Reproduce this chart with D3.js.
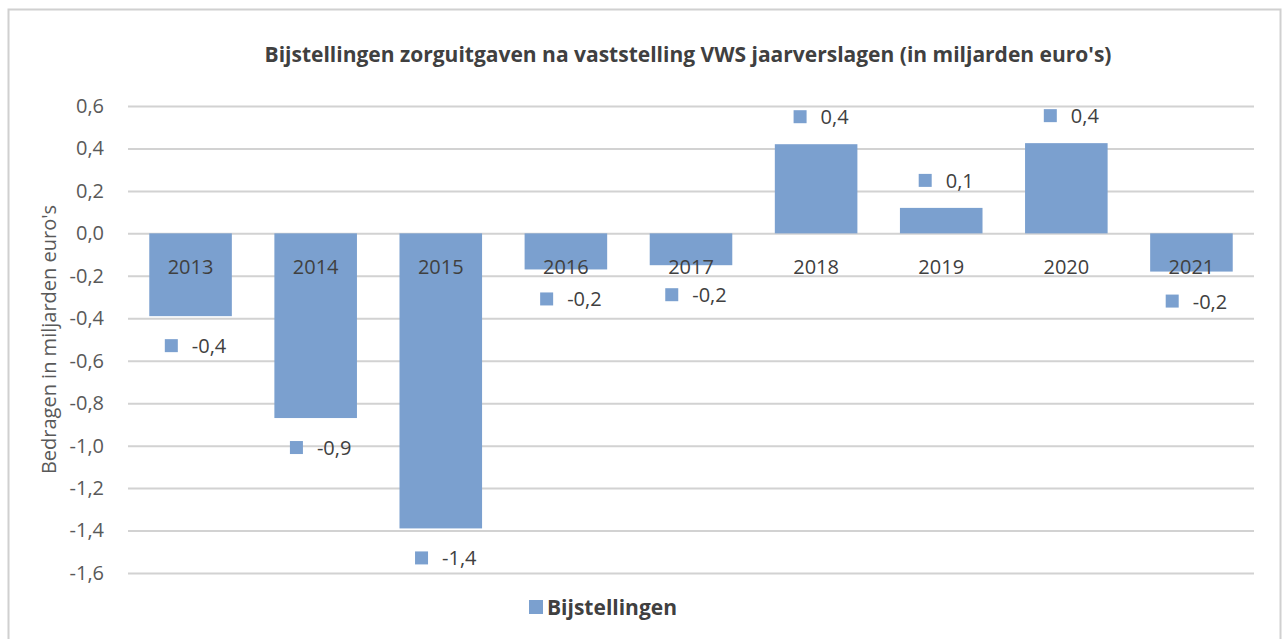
<!DOCTYPE html>
<html>
<head>
<meta charset="utf-8">
<script src="https://cdn.jsdelivr.net/npm/d3@7"></script>
<style>
  body { margin: 0; background: #fff; }
  text { font-family: "Open Sans", "Liberation Sans", sans-serif; }
</style>
</head>
<body>
<div id="chart"></div>
<script>
// chart data
var years = ["2013", "2014", "2015", "2016", "2017", "2018", "2019", "2020", "2021"];
var values = [-0.39, -0.87, -1.39, -0.17, -0.15, 0.42, 0.12, 0.425, -0.18];
var labels = ["-0,4", "-0,9", "-1,4", "-0,2", "-0,2", "0,4", "0,1", "0,4", "-0,2"];
var yTicks = [0.6, 0.4, 0.2, 0, -0.2, -0.4, -0.6, -0.8, -1.0, -1.2, -1.4, -1.6];

var W = 1282, H = 639;
var margin = {top: 106, right: 28, bottom: 66, left: 128};
var width = W - margin.left - margin.right,
    height = H - margin.top - margin.bottom;
var barColor = "#7ba0cf";

var svg = d3.select("#chart").append("svg")
  .attr("width", W).attr("height", H);

// outer frame
svg.append("rect")
  .attr("x", 8.5).attr("y", 9.5)
  .attr("width", W - 10).attr("height", H)
  .attr("fill", "#fff").attr("stroke", "#d0d0d0").attr("stroke-width", 2);

svg.append("text")
  .attr("x", 688).attr("y", 62)
  .attr("text-anchor", "middle")
  .attr("font-size", "21px").attr("font-weight", "bold")
  .attr("fill", "#404040")
  .text("Bijstellingen zorguitgaven na vaststelling VWS jaarverslagen (in miljarden euro's)");

var g = svg.append("g")
  .attr("transform", "translate(" + margin.left + "," + margin.top + ")");

var x = d3.scaleBand().domain(years).range([0, width]).paddingInner(0.34).paddingOuter(0.17);
var y = d3.scaleLinear().domain([0.6, -1.6]).range([0, height]);

// gridlines + tick labels
var yAxis = d3.axisLeft(y).tickValues(yTicks).tickSize(-width).tickPadding(24)
  .tickFormat(function(d) { return d3.format(".1f")(d).replace(".", ",").replace("−", "-"); });
var ya = g.append("g").call(yAxis);
ya.select(".domain").remove();
ya.selectAll(".tick line").attr("stroke", "#d2d2d2").attr("stroke-width", 2);
ya.selectAll(".tick text").attr("font-size", "20px").attr("fill", "#595959")
  .attr("font-family", "'Open Sans', sans-serif");

// bars
g.selectAll("rect.bar").data(values).enter().append("rect")
  .attr("class", "bar")
  .attr("x", function(d, i) { return x(years[i]); })
  .attr("width", x.bandwidth())
  .attr("y", function(d) { return y(Math.max(0, d)); })
  .attr("height", function(d) { return Math.abs(y(d) - y(0)); })
  .attr("fill", barColor);

// category labels just below the zero line
g.selectAll("text.cat").data(years).enter().append("text")
  .attr("class", "cat")
  .attr("x", function(d) { return x(d) + x.bandwidth() / 2; })
  .attr("y", y(0) + 41)
  .attr("text-anchor", "middle")
  .attr("font-size", "20px").attr("fill", "#404040")
  .text(function(d) { return d; });

// data labels with legend key, centred on the bar
var dl = g.selectAll("g.dl").data(values).enter().append("g")
  .attr("class", "dl");
dl.append("rect")
  .attr("y", -6).attr("width", 13).attr("height", 13)
  .attr("fill", barColor);
dl.append("text")
  .attr("y", 8)
  .attr("font-size", "20px").attr("fill", "#404040")
  .text(function(d, i) { return labels[i]; });
dl.each(function(d, i) {
  var grp = d3.select(this);
  var tw = grp.select("text").node().getComputedTextLength();
  var total = 13 + 14 + tw;
  var left = -total / 2 + 5;
  grp.select("rect").attr("x", left);
  grp.select("text").attr("x", left + 27);
  var cx = x(years[i]) + x.bandwidth() / 2;
  var cy = d < 0 ? y(d) + 29 : y(d) - 28;
  grp.attr("transform", "translate(" + cx + "," + cy + ")");
});

// y axis title
svg.append("text")
  .attr("transform", "translate(56," + (margin.top + height / 2) + ") rotate(-90)")
  .attr("text-anchor", "middle")
  .attr("font-size", "20px").attr("fill", "#595959")
  .text("Bedragen in miljarden euro's");

// legend
var lg = svg.append("g").attr("transform", "translate(529,600)");
lg.append("rect").attr("width", 14).attr("height", 14).attr("fill", barColor);
lg.append("text").attr("x", 18).attr("y", 15)
  .attr("font-size", "21px").attr("font-weight", "bold").attr("fill", "#404040")
  .text("Bijstellingen");
</script>
</body>
</html>
